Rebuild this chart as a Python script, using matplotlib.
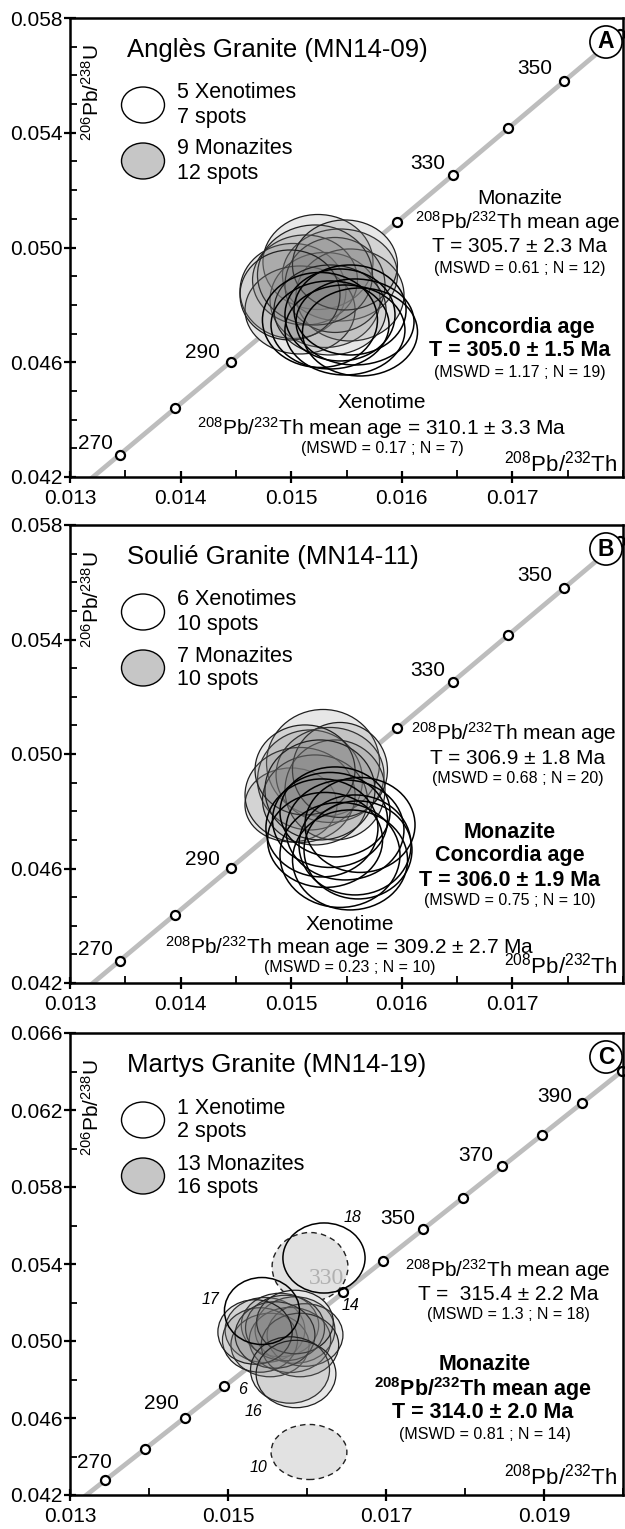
import matplotlib
matplotlib.use("Agg")
import matplotlib.pyplot as plt
from matplotlib.patches import Ellipse
from matplotlib.ticker import FixedLocator, MultipleLocator, FormatStrFormatter

plt.rcParams["font.family"] = ["Liberation Sans", "DejaVu Sans"]
plt.rcParams["mathtext.default"] = "regular"

# Concordia: age (Ma) and 208Pb/232Th, 206Pb/238U ratios
conc_age = [260, 270, 280, 290, 300, 310, 320, 330, 340, 350, 360, 370, 380, 390, 400, 410]
conc_pb208_th232 = [0.0129466, 0.0134479, 0.0139494, 0.0144512, 0.0149532, 0.0154555,
                    0.0159580, 0.0164608, 0.0169638, 0.0174670, 0.0179706, 0.0184743,
                    0.0189783, 0.0194826, 0.0199871, 0.0204919]
conc_pb206_u238 = [0.0411569, 0.0427733, 0.0443921, 0.0460135, 0.0476374, 0.0492638,
                   0.0508927, 0.0525242, 0.0541582, 0.0557947, 0.0574338, 0.0590754,
                   0.0607196, 0.0623663, 0.0640155, 0.0656674]

# --- Anglès granite (MN14-09) ---
a_mnz_x = [0.015242, 0.015016, 0.015441, 0.015306, 0.015125, 0.015532,
           0.015080, 0.015396, 0.015215, 0.015486, 0.014989, 0.015351]
a_mnz_y = [0.049495, 0.048485, 0.049042, 0.048171, 0.048868, 0.048345,
           0.047822, 0.048694, 0.049042, 0.049391, 0.048345, 0.047822]
a_mnz_w = [0.000995, 0.000958, 0.001040, 0.000995, 0.000949, 0.000976,
           0.000995, 0.000904, 0.001040, 0.000949, 0.000904, 0.001013]
a_mnz_h = [0.003311, 0.003311, 0.003207, 0.003311, 0.003137, 0.003207,
           0.003067, 0.003311, 0.003486, 0.003137, 0.003137, 0.003137]
a_xtm_x = [0.015351, 0.015486, 0.015577, 0.015441, 0.015622, 0.015260, 0.015532]
a_xtm_y = [0.047300, 0.047125, 0.047404, 0.047648, 0.047055, 0.047474, 0.047822]
a_xtm_w = [0.001067, 0.001085, 0.001067, 0.000995, 0.001040, 0.001040, 0.001013]
a_xtm_h = [0.003067, 0.003137, 0.002998, 0.003207, 0.003067, 0.003311, 0.003137]

# --- Soulié granite (MN14-11) ---
b_mnz_x = [0.015288, 0.014998, 0.015170, 0.015351, 0.015080,
           0.015396, 0.015215, 0.015441, 0.015125, 0.015260]
b_mnz_y = [0.049687, 0.048220, 0.049093, 0.049268, 0.048569,
           0.048744, 0.048395, 0.049443, 0.049443, 0.048744]
b_mnz_w = [0.001022, 0.000832, 0.000949, 0.000976, 0.000995,
           0.000904, 0.000949, 0.000859, 0.000904, 0.000995]
b_mnz_h = [0.003737, 0.002585, 0.003493, 0.003318, 0.003318,
           0.003493, 0.003144, 0.003318, 0.003144, 0.003493]
b_xtm_x = [0.015351, 0.015486, 0.015577, 0.015306, 0.015622,
           0.015441, 0.015532, 0.015396, 0.015278, 0.015604]
b_xtm_y = [0.047696, 0.047347, 0.046823, 0.046998, 0.047522,
           0.046474, 0.046299, 0.047976, 0.047417, 0.046648]
b_xtm_w = [0.001040, 0.001067, 0.001013, 0.001040, 0.000995,
           0.001085, 0.001040, 0.000995, 0.001013, 0.000976]
b_xtm_h = [0.003318, 0.003493, 0.003493, 0.003318, 0.003318,
           0.003667, 0.003493, 0.003144, 0.003423, 0.003423]

# --- Martys granite (MN14-19) ---
c_mnz_x = [0.015468, 0.015658, 0.015848, 0.015532, 0.015785, 0.015975, 0.015405,
           0.015722, 0.015911, 0.015595, 0.015848, 0.015342, 0.015785, 0.015861]
c_mnz_y = [0.050571, 0.050831, 0.050571, 0.049792, 0.050052, 0.050312, 0.050052,
           0.050675, 0.049792, 0.050312, 0.050987, 0.050468, 0.048494, 0.048286]
c_mnz_w = [0.00101, 0.00098, 0.00101, 0.00099, 0.00103, 0.00096, 0.00095,
           0.00100, 0.00098, 0.00101, 0.00097, 0.00094, 0.00100, 0.00101]
c_mnz_h = [0.00338, 0.00330, 0.00345, 0.00330, 0.00338, 0.00325, 0.00335,
           0.00340, 0.00330, 0.00345, 0.00330, 0.00335, 0.00345, 0.00350]
c_xtm_x = [0.015430, 0.016215]
c_xtm_y = [0.051558, 0.054312]
c_xtm_w = [0.00095, 0.00104]
c_xtm_h = [0.00348, 0.00364]
# monazite spots left out of the mean (dashed)
c_out_x = [0.016038, 0.016025]
c_out_y = [0.053844, 0.044234]
c_out_w = [0.00096, 0.00096]
c_out_h = [0.00358, 0.00286]

W, H = 625, 1529
fig = plt.figure(figsize=(W / 100, H / 100), dpi=100)


def fxy(x, y):
    # figure pixel (from top-left) -> figure fraction
    return x / W, 1 - y / H


def make_axes(top, bottom):
    left, right = 70, 623
    return fig.add_axes([left / W, 1 - bottom / H, (right - left) / W, (bottom - top) / H])


def style_axes(ax, xlim, ylim, xmajor, xminor, ymajor, yminor):
    ax.set_xlim(*xlim)
    ax.set_ylim(*ylim)
    ax.xaxis.set_major_locator(FixedLocator(xmajor))
    ax.xaxis.set_minor_locator(MultipleLocator(xminor))
    ax.yaxis.set_major_locator(FixedLocator(ymajor))
    ax.yaxis.set_minor_locator(MultipleLocator(yminor))
    ax.xaxis.set_major_formatter(FormatStrFormatter("%.3f"))
    ax.yaxis.set_major_formatter(FormatStrFormatter("%.3f"))
    ax.tick_params(which="major", direction="inout", length=9, width=1.6, labelsize=15)
    ax.tick_params(axis="x", which="major", pad=4)
    ax.tick_params(axis="y", which="major", pad=1)
    ax.tick_params(which="minor", direction="in", length=5, width=1.3)
    for sp in ax.spines.values():
        sp.set_linewidth(1.8)


def draw_concordia(ax, marker_ages, labels, max_x):
    ax.plot(conc_pb208_th232, conc_pb206_u238, color="#bdbdbd", lw=3.4, zorder=1,
            solid_capstyle="butt")
    mx = [x for a, x in zip(conc_age, conc_pb208_th232) if a in marker_ages and x <= max_x]
    my = [y for a, x, y in zip(conc_age, conc_pb208_th232, conc_pb206_u238)
          if a in marker_ages and x <= max_x]
    ax.plot(mx, my, "o", ms=6.5, mfc="white", mec="black", mew=1.6, zorder=2, clip_on=False)
    for age, (dx, dy) in labels.items():
        i = conc_age.index(age)
        ax.annotate(str(age), (conc_pb208_th232[i], conc_pb206_u238[i]),
                    xytext=(dx, dy), textcoords="offset points",
                    ha="center", va="center", fontsize=15, zorder=6)


def draw_monazite(ax, xs, ys, ws, hs):
    # white underlay hides the concordia under the spot cluster
    for x, y, w, h in zip(xs, ys, ws, hs):
        ax.add_patch(Ellipse((x, y), w, h, fc="white", ec="none", zorder=3))
    for x, y, w, h in zip(xs, ys, ws, hs):
        ax.add_patch(Ellipse((x, y), w, h, fc=(0.5, 0.5, 0.5, 0.19),
                             ec="#202020", lw=0.9, zorder=4))


def draw_xenotime(ax, xs, ys, ws, hs):
    for x, y, w, h in zip(xs, ys, ws, hs):
        ax.add_patch(Ellipse((x, y), w, h, fc="none", ec="black", lw=1.1, zorder=5))


def ftext(ax, x, y, s, size=15, ha="center", **kw):
    ax.text(*fxy(x, y), s, transform=fig.transFigure, fontsize=size, ha=ha,
            va="center", zorder=8, **kw)


def header(ax, top, title, xeno, mona, letter):
    ftext(ax, 127, top + 32, title, size=18.5, ha="left")
    for cy, fc in ((top + 87, "white"), (top + 143, "#c6c6c6")):
        ax.add_artist(Ellipse(fxy(143, cy), 43 / W, 36 / H, transform=fig.transFigure,
                              fc=fc, ec="black", lw=1.0, clip_on=False))
    ftext(ax, 177, top + 75, xeno[0], size=15.5, ha="left")
    ftext(ax, 177, top + 99, xeno[1], size=15.5, ha="left")
    ftext(ax, 177, top + 131, mona[0], size=15.5, ha="left")
    ftext(ax, 177, top + 155, mona[1], size=15.5, ha="left")
    ftext(ax, 92, top + 74, "$^{206}$Pb/$^{238}$U", size=15, rotation=90)
    ax.text(*fxy(606, top + 24), letter, transform=fig.transFigure, fontsize=16.5,
            fontweight="bold", ha="center", va="center", zorder=9,
            bbox=dict(boxstyle="circle,pad=0.2", fc="white", ec="black", lw=1.2))


label_ab = {270: (-17, 8.5), 290: (-20, 6.5), 330: (-18, 8), 350: (-21, 9)}
label_c = {270: (-8, 13), 290: (-16.5, 10), 350: (-18, 8), 370: (-19.5, 8), 390: (-20, 4.5)}

x_ab = [0.013, 0.014, 0.015, 0.016, 0.017]
y_ab = [0.042, 0.046, 0.050, 0.054, 0.058]

# Panel A
ax = make_axes(18, 477)
style_axes(ax, (0.013, 0.018), (0.042, 0.058), x_ab, 0.0005, y_ab, 0.001)
draw_concordia(ax, range(270, 370, 10), label_ab, 0.0181)
draw_monazite(ax, a_mnz_x, a_mnz_y, a_mnz_w, a_mnz_h)
draw_xenotime(ax, a_xtm_x, a_xtm_y, a_xtm_w, a_xtm_h)
header(ax, 18, "Anglès Granite (MN14-09)", ("5 Xenotimes", "7 spots"),
       ("9 Monazites", "12 spots"), "A")
ftext(ax, 520, 198, "Monazite")
ftext(ax, 518, 222, "$^{208}$Pb/$^{232}$Th mean age")
ftext(ax, 520, 246, "T = 305.7 ± 2.3 Ma")
ftext(ax, 520, 268, "(MSWD = 0.61 ; N = 12)", size=11.5)
ftext(ax, 520, 327, "Concordia age", size=15.5, fontweight="bold")
ftext(ax, 520, 350, "T = 305.0 ± 1.5 Ma", size=15.5, fontweight="bold")
ftext(ax, 520, 372, "(MSWD = 1.17 ; N = 19)", size=11.5)
ftext(ax, 382, 403, "Xenotime")
ftext(ax, 382, 428, "$^{208}$Pb/$^{232}$Th mean age = 310.1 ± 3.3 Ma")
ftext(ax, 382, 448, "(MSWD = 0.17 ; N = 7)", size=11.5)
ftext(ax, 617, 464, "$^{208}$Pb/$^{232}$Th", size=16, ha="right")

# Panel B
ax = make_axes(525, 983)
style_axes(ax, (0.013, 0.018), (0.042, 0.058), x_ab, 0.0005, y_ab, 0.001)
draw_concordia(ax, range(270, 370, 10), label_ab, 0.0181)
draw_monazite(ax, b_mnz_x, b_mnz_y, b_mnz_w, b_mnz_h)
draw_xenotime(ax, b_xtm_x, b_xtm_y, b_xtm_w, b_xtm_h)
header(ax, 525, "Soulié Granite (MN14-11)", ("6 Xenotimes", "10 spots"),
       ("7 Monazites", "10 spots"), "B")
ftext(ax, 514, 733, "$^{208}$Pb/$^{232}$Th mean age")
ftext(ax, 518, 759, "T = 306.9 ± 1.8 Ma")
ftext(ax, 518, 779, "(MSWD = 0.68 ; N = 20)", size=11.5)
ftext(ax, 510, 832, "Monazite", size=15.5, fontweight="bold")
ftext(ax, 510, 855, "Concordia age", size=15.5, fontweight="bold")
ftext(ax, 510, 880, "T = 306.0 ± 1.9 Ma", size=15.5, fontweight="bold")
ftext(ax, 510, 901, "(MSWD = 0.75 ; N = 10)", size=11.5)
ftext(ax, 350, 924, "Xenotime")
ftext(ax, 350, 947, "$^{208}$Pb/$^{232}$Th mean age = 309.2 ± 2.7 Ma")
ftext(ax, 350, 968, "(MSWD = 0.23 ; N = 10)", size=11.5)
ftext(ax, 617, 966, "$^{208}$Pb/$^{232}$Th", size=16, ha="right")

# Panel C
ax = make_axes(1033, 1495)
style_axes(ax, (0.013, 0.020), (0.042, 0.066), [0.013, 0.015, 0.017, 0.019], 0.001,
           [0.042, 0.046, 0.050, 0.054, 0.058, 0.062, 0.066], 0.002)
draw_concordia(ax, range(270, 410, 10), label_c, 0.0201)
for x, y, w, h in zip(c_out_x, c_out_y, c_out_w, c_out_h):
    ax.add_patch(Ellipse((x, y), w, h, fc="#e2e2e2", ec="#222222", lw=1.0, ls=(0, (4, 3)),
                         zorder=3))
draw_monazite(ax, c_mnz_x, c_mnz_y, c_mnz_w, c_mnz_h)
draw_xenotime(ax, c_xtm_x, c_xtm_y, c_xtm_w, c_xtm_h)
header(ax, 1033, "Martys Granite (MN14-19)", ("1 Xenotime", "2 spots"),
       ("13 Monazites", "16 spots"), "C")
ftext(ax, 327, 1278, "330", size=17, color="#b0b0b0", family="Liberation Serif")
for s, x, y in (("18", 352, 1217), ("17", 210, 1300), ("14", 350, 1305),
                ("6", 243, 1390), ("16", 253, 1412), ("10", 258, 1468)):
    ftext(ax, x, y, s, size=11.5, style="italic")
ftext(ax, 508, 1270, "$^{208}$Pb/$^{232}$Th mean age")
ftext(ax, 508, 1294, "T =  315.4 ± 2.2 Ma")
ftext(ax, 508, 1315, "(MSWD = 1.3 ; N = 18)", size=11.5)
ftext(ax, 485, 1364, "Monazite", size=15.5, fontweight="bold")
ftext(ax, 483, 1389, "$^{208}$Pb/$^{232}$Th mean age", size=15.5, fontweight="bold")
ftext(ax, 483, 1413, "T = 314.0 ± 2.0 Ma", size=15.5, fontweight="bold")
ftext(ax, 485, 1434, "(MSWD = 0.81 ; N = 14)", size=11.5)
ftext(ax, 617, 1477, "$^{208}$Pb/$^{232}$Th", size=16, ha="right")

fig.savefig("out.png", dpi=100)
